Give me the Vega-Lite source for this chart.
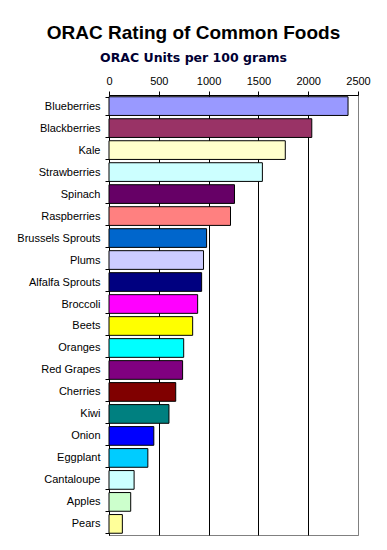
{
  "$schema": "https://vega.github.io/schema/vega-lite/v6.json",
  "autosize": "none",
  "width": 249,
  "height": 440,
  "padding": {"left": 109, "top": 95, "right": 29, "bottom": 15},
  "background": "white",
  "title": {
    "text": "ORAC Rating of Common Foods",
    "subtitle": "ORAC Units per 100 grams",
    "anchor": "middle",
    "frame": "bounds",
    "font": "Liberation Sans",
    "fontSize": 19,
    "fontWeight": "bold",
    "color": "black",
    "subtitleFont": "DejaVu Sans",
    "subtitleFontSize": 12.5,
    "subtitleFontWeight": "bold",
    "subtitleColor": "#000033",
    "subtitlePadding": 9,
    "offset": 11
  },
  "data": {
    "values": [
      {"food": "Blueberries", "orac": 2400},
      {"food": "Blackberries", "orac": 2036},
      {"food": "Kale", "orac": 1770},
      {"food": "Strawberries", "orac": 1540},
      {"food": "Spinach", "orac": 1260},
      {"food": "Raspberries", "orac": 1220},
      {"food": "Brussels Sprouts", "orac": 980},
      {"food": "Plums", "orac": 949},
      {"food": "Alfalfa Sprouts", "orac": 930},
      {"food": "Broccoli", "orac": 890},
      {"food": "Beets", "orac": 840},
      {"food": "Oranges", "orac": 750},
      {"food": "Red Grapes", "orac": 739},
      {"food": "Cherries", "orac": 670},
      {"food": "Kiwi", "orac": 602},
      {"food": "Onion", "orac": 450},
      {"food": "Eggplant", "orac": 390},
      {"food": "Cantaloupe", "orac": 252},
      {"food": "Apples", "orac": 218},
      {"food": "Pears", "orac": 134}
    ]
  },
  "mark": {"type": "bar", "stroke": "black", "strokeWidth": 1},
  "encoding": {
    "y": {
      "field": "food",
      "type": "nominal",
      "sort": null,
      "scale": {"paddingInner": 0.15, "paddingOuter": 0.08},
      "axis": {
        "title": null,
        "domainColor": "black",
        "tickColor": "black",
        "tickSize": 4,
        "tickBand": "extent",
        "labelPadding": 5,
        "labelFont": "Liberation Sans",
        "labelFontSize": 11,
        "labelColor": "black",
        "grid": false
      }
    },
    "x": {
      "field": "orac",
      "type": "quantitative",
      "scale": {"domain": [0, 2500], "nice": false},
      "axis": {
        "orient": "top",
        "title": null,
        "values": [0, 500, 1000, 1500, 2000, 2500],
        "format": "d",
        "domainColor": "black",
        "tickColor": "black",
        "tickSize": 4,
        "labelPadding": 5,
        "labelFont": "Liberation Sans",
        "labelFontSize": 11,
        "labelColor": "black",
        "labelFlush": false,
        "grid": true,
        "gridColor": {"condition": {"test": "datum.value >= 2500", "value": "#808080"}, "value": "black"},
        "gridOpacity": 1
      }
    },
    "color": {
      "field": "food",
      "type": "nominal",
      "legend": null,
      "scale": {
        "domain": ["Blueberries", "Blackberries", "Kale", "Strawberries", "Spinach", "Raspberries", "Brussels Sprouts", "Plums", "Alfalfa Sprouts", "Broccoli", "Beets", "Oranges", "Red Grapes", "Cherries", "Kiwi", "Onion", "Eggplant", "Cantaloupe", "Apples", "Pears"],
        "range": ["#9999FF", "#993366", "#FFFFCC", "#CCFFFF", "#660066", "#FF8080", "#0066CC", "#CCCCFF", "#000080", "#FF00FF", "#FFFF00", "#00FFFF", "#800080", "#800000", "#008080", "#0000FF", "#00CCFF", "#CCFFFF", "#CCFFCC", "#FFFF99"]
      }
    },
    "opacity": {"value": 1}
  },
  "config": {
    "view": {"stroke": "#808080", "strokeWidth": 1}
  }
}
